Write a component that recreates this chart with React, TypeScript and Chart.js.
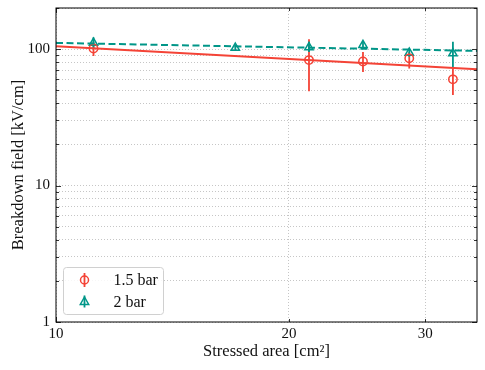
import { useEffect, useRef } from 'react';
import { Chart, registerables } from 'chart.js';

Chart.register(...registerables);

// ---- data ----
const fitX = [10, 35];
const redFit = [105, 71];
const tealFit = [111, 97];

const redX = [11.18, 21.23, 24.93, 28.61, 32.58];
const redY = [101, 83, 81, 85.5, 60];
const redLo = [89, 49, 68, 72, 46];
const redHi = [113, 118, 95, 95, 72];

const tealX = [11.18, 17.05, 21.23, 24.93, 28.61, 32.58];
const tealY = [111, 102, 103, 107, 94, 93];
const tealLo = [101, 97, 95, 101, 88, 74];
const tealHi = [122, 107, 113, 113, 100, 113];

const xTicks = [10, 20, 30];
const yTicks = [1, 2, 3, 4, 5, 6, 7, 8, 9, 10, 20, 30, 40, 50, 60, 70, 80, 90, 100, 200];
const yMajor = [1, 10, 100];

const seriesNames = ['1.5 bar', '2 bar'];
const xTitle = 'Stressed area [cm²]';
const yTitle = 'Breakdown field [kV/cm]';

const RED = '#f44336';
const TEAL = '#009688';
const FONT = "'Liberation Serif', serif";

const errorSets = [
  { x: redX, lo: redLo, hi: redHi, color: RED },
  { x: tealX, lo: tealLo, hi: tealHi, color: TEAL },
];

const decorPlugin = {
  id: 'decor',
  beforeDatasetsDraw(chart: any) {
    const ctx = chart.ctx;
    const xs = chart.scales.x;
    const ys = chart.scales.y;
    ctx.save();
    ctx.lineWidth = 1.8;
    errorSets.forEach((s) => {
      ctx.strokeStyle = s.color;
      s.x.forEach((xv, i) => {
        const px = xs.getPixelForValue(xv);
        ctx.beginPath();
        ctx.moveTo(px, ys.getPixelForValue(s.lo[i]));
        ctx.lineTo(px, ys.getPixelForValue(s.hi[i]));
        ctx.stroke();
      });
    });
    ctx.restore();
  },
  afterDraw(chart: any) {
    const ctx = chart.ctx;
    const a = chart.chartArea;
    const xs = chart.scales.x;
    const ys = chart.scales.y;
    ctx.save();
    // inward ticks
    ctx.strokeStyle = '#000';
    ctx.lineWidth = 0.8;
    yTicks.forEach((v) => {
      const py = Math.round(ys.getPixelForValue(v)) + 0.5;
      const len = yMajor.includes(v) ? 5 : 3;
      ctx.beginPath();
      ctx.moveTo(a.left, py);
      ctx.lineTo(a.left + len, py);
      ctx.moveTo(a.right, py);
      ctx.lineTo(a.right - len, py);
      ctx.stroke();
    });
    xTicks.forEach((v) => {
      const px = Math.round(xs.getPixelForValue(v)) + 0.5;
      const len = v === 10 ? 5 : 3;
      ctx.beginPath();
      ctx.moveTo(px, a.bottom);
      ctx.lineTo(px, a.bottom - len);
      ctx.moveTo(px, a.top);
      ctx.lineTo(px, a.top + len);
      ctx.stroke();
    });
    // frame
    ctx.lineWidth = 1;
    ctx.strokeStyle = '#000';
    ctx.strokeRect(a.left, a.top, a.right - a.left, a.bottom - a.top);

    // legend
    const lx = a.left + 7.5;
    const ly = 267.5;
    const lw = 100;
    const lh = 47;
    const r = 3;
    ctx.beginPath();
    ctx.moveTo(lx + r, ly);
    ctx.lineTo(lx + lw - r, ly);
    ctx.arcTo(lx + lw, ly, lx + lw, ly + r, r);
    ctx.lineTo(lx + lw, ly + lh - r);
    ctx.arcTo(lx + lw, ly + lh, lx + lw - r, ly + lh, r);
    ctx.lineTo(lx + r, ly + lh);
    ctx.arcTo(lx, ly + lh, lx, ly + lh - r, r);
    ctx.lineTo(lx, ly + r);
    ctx.arcTo(lx, ly, lx + r, ly, r);
    ctx.closePath();
    ctx.fillStyle = 'rgba(255,255,255,0.85)';
    ctx.fill();
    ctx.strokeStyle = '#d0d0d0';
    ctx.lineWidth = 1;
    ctx.stroke();

    const mx = lx + 21;
    const rows = [ly + 12.5, ly + 34];
    ctx.lineWidth = 1.8;
    // red circle entry
    ctx.strokeStyle = RED;
    ctx.beginPath();
    ctx.moveTo(mx, rows[0] - 7);
    ctx.lineTo(mx, rows[0] + 7);
    ctx.stroke();
    ctx.lineWidth = 1.5;
    ctx.beginPath();
    ctx.arc(mx, rows[0], 4, 0, Math.PI * 2);
    ctx.stroke();
    // teal triangle entry
    ctx.lineWidth = 1.8;
    ctx.strokeStyle = TEAL;
    ctx.beginPath();
    ctx.moveTo(mx, rows[1] - 6);
    ctx.lineTo(mx, rows[1] + 6);
    ctx.stroke();
    ctx.lineWidth = 1.5;
    ctx.beginPath();
    ctx.moveTo(mx, rows[1] - 4.5);
    ctx.lineTo(mx + 4.2, rows[1] + 3);
    ctx.lineTo(mx - 4.2, rows[1] + 3);
    ctx.closePath();
    ctx.stroke();

    ctx.fillStyle = '#111';
    ctx.font = `16px ${FONT}`;
    ctx.textBaseline = 'middle';
    ctx.textAlign = 'left';
    seriesNames.forEach((n, i) => ctx.fillText(n, lx + 50, rows[i] + 1));
    ctx.restore();
  },
};

export default function App() {
  const ref = useRef<HTMLCanvasElement>(null);
  useEffect(() => {
    document.body.style.margin = '0';
    const chart = new Chart(ref.current!, {
      type: 'scatter',
      data: {
        datasets: [
          {
            type: 'line',
            data: fitX.map((x, i) => ({ x, y: redFit[i] })),
            borderColor: RED,
            borderWidth: 2,
            pointRadius: 0,
            showLine: true,
          } as any,
          {
            type: 'line',
            data: fitX.map((x, i) => ({ x, y: tealFit[i] })),
            borderColor: TEAL,
            borderWidth: 2,
            borderDash: [7, 3.5],
            pointRadius: 0,
            showLine: true,
          } as any,
          {
            data: redX.map((x, i) => ({ x, y: redY[i] })),
            pointStyle: 'circle',
            pointRadius: 4.2,
            pointBorderWidth: 1.5,
            borderColor: RED,
            backgroundColor: 'rgba(0,0,0,0)',
          },
          {
            data: tealX.map((x, i) => ({ x, y: tealY[i] })),
            pointStyle: 'triangle',
            pointRadius: 4.8,
            pointBorderWidth: 1.5,
            borderColor: TEAL,
            backgroundColor: 'rgba(0,0,0,0)',
          },
        ],
      },
      options: {
        animation: false,
        responsive: false,
        maintainAspectRatio: false,
        layout: { padding: { top: 8, right: 8, left: 0, bottom: 0 } },
        plugins: { legend: { display: false }, tooltip: { enabled: false } },
        scales: {
          x: {
            type: 'logarithmic',
            min: 10,
            max: 35,
            afterBuildTicks: (s: any) => {
              s.ticks = xTicks.map((v) => ({ value: v }));
            },
            afterFit: (s: any) => {
              s.height = 48;
              s.paddingLeft = 0;
              s.paddingRight = 0;
            },
            ticks: {
              autoSkip: false,
              maxRotation: 0,
              padding: 3,
              color: '#111',
              font: { family: FONT, size: 15 },
              callback: (v: any) => String(v),
            },
            grid: { color: '#b8b8b8', lineWidth: 0.8, drawTicks: false },
            border: { display: false, dash: [1, 2] },
            title: {
              display: true,
              text: xTitle,
              color: '#111',
              font: { family: FONT, size: 16.5 },
              padding: { top: 0, bottom: 8 },
            },
          },
          y: {
            type: 'logarithmic',
            min: 1,
            max: 200,
            afterBuildTicks: (s: any) => {
              s.ticks = yTicks.map((v) => ({ value: v }));
            },
            afterFit: (s: any) => {
              s.width = 56;
              s.paddingTop = 0;
              s.paddingBottom = 0;
            },
            ticks: {
              autoSkip: false,
              padding: 6,
              color: '#111',
              font: { family: FONT, size: 15 },
              callback: (v: any) => (yMajor.includes(Number(v)) ? String(v) : ''),
            },
            grid: { color: '#b8b8b8', lineWidth: 0.8, drawTicks: false },
            border: { display: false, dash: [1, 2] },
            title: {
              display: true,
              text: yTitle,
              color: '#111',
              font: { family: FONT, size: 16.5 },
              padding: { top: 9, bottom: 0 },
            },
          },
        },
      },
      plugins: [decorPlugin],
    });
    return () => chart.destroy();
  }, []);
  return <canvas ref={ref} width={485} height={370} style={{ display: 'block' }} />;
}
